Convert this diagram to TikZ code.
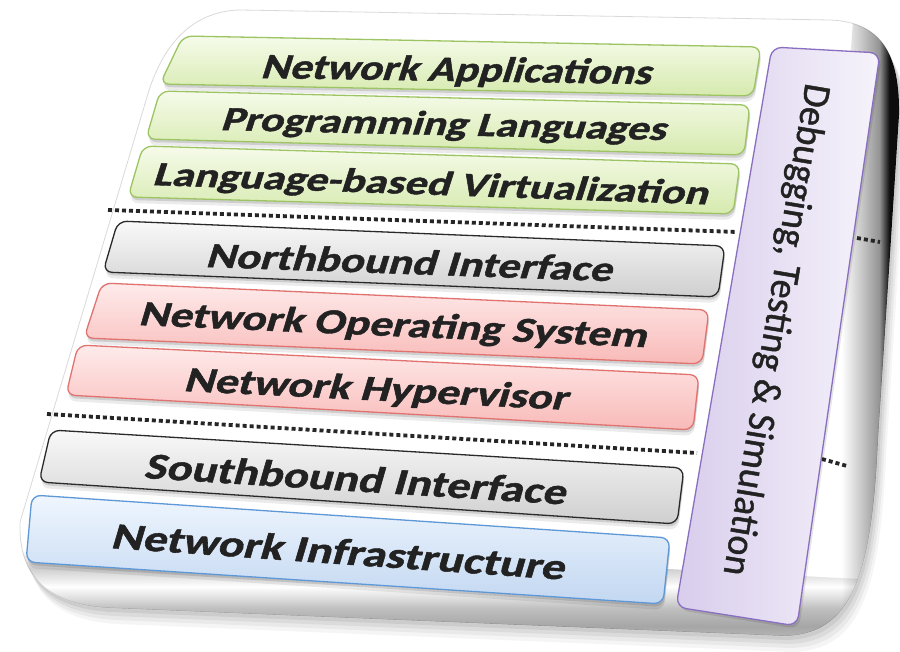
\documentclass[tikz,border=0pt]{standalone}
\usepackage{fontspec}
\setmainfont{Carlito}
\newfontfamily\heavyfont{Carlito}[BoldFeatures={FakeBold=1.2}, UprightFeatures={FakeBold=1.1}]
\usepackage{graphicx}

\definecolor{labeltext}{HTML}{222222}
\definecolor{grnline}{HTML}{9DC462}
\definecolor{grntop}{HTML}{F6FBEA}
\definecolor{grnbot}{HTML}{D6EAAE}
\definecolor{redline}{HTML}{E0736F}
\definecolor{redtop}{HTML}{FEEBEB}
\definecolor{redbot}{HTML}{F8BAB8}
\definecolor{greyline}{HTML}{2A2A2A}
\definecolor{greytop}{HTML}{F9F9F9}
\definecolor{greybot}{HTML}{CFCFCF}
\definecolor{blueline}{HTML}{5E98D6}
\definecolor{bluetop}{HTML}{EFF6FE}
\definecolor{bluebot}{HTML}{C2D7F1}
\definecolor{purpline}{HTML}{8A6FC0}
\definecolor{purpleft}{HTML}{D8CDEC}
\definecolor{purpright}{HTML}{F6F3FB}

% silver curl along the lower rim of the panel
\pgfdeclareverticalshading{curlshade}{100bp}{color(0bp)=(white); color(30bp)=(white);
  color(36bp)=(gray!45); color(43bp)=(gray!70); color(49bp)=(gray!50);
  color(56bp)=(white); color(62bp)=(gray!38); color(68bp)=(white); color(100bp)=(white)}
% dark rim along the right side of the panel
\pgfdeclarehorizontalshading{rimshade}{100bp}{color(0bp)=(white); color(42bp)=(white);
  color(51bp)=(gray!50); color(57bp)=(gray!85); color(61bp)=(black!95); color(100bp)=(black!95)}

% text stretched to a given width and cap height
\newcommand\fitto[3]{\resizebox{#1pt}{#2pt}{\raisebox{0pt}[\fontcharht\font`H][0pt]{#3}}}

\tikzset{
  panel/.style={insert path={(240,10) -- (830,20) .. controls (882,22) and (900,55) .. (899,115)
    -- (878,440) .. controls (872,580) and (850,634) .. (785,636) -- (110,608)
    .. controls (50,605) and (18,578) .. (20,522) -- (147,97)
    .. controls (162,45) and (192,11) .. (240,10) -- cycle}},
  layer/.style={line width=1.3pt, rounded corners=9pt},
  greenlayer/.style={layer, draw=grnline, top color=grntop, bottom color=grnbot},
  redlayer/.style={layer, draw=redline, top color=redtop, bottom color=redbot},
  greylayer/.style={layer, draw=greyline, top color=greytop, bottom color=greybot},
  bluelayer/.style={layer, draw=blueline, top color=bluetop, bottom color=bluebot},
  layershadow/.style={fill=black, rounded corners=9pt},
  lbl/.style={anchor=base west, inner sep=0pt, text=labeltext,
    font=\heavyfont\bfseries\fontsize{30}{36}\selectfont},
  divider/.style={line width=3.8pt, dash pattern=on 4pt off 3pt, draw=black!85},
  sidebar/.style={line width=1.3pt, rounded corners=10pt, draw=purpline,
    left color=purpleft, right color=purpright},
}

% one layer of the stack: a soft shadow, then the outlined, shaded band
\newcommand\layerbox[5]{%
  \fill[layershadow, opacity=.08, xshift=1pt, yshift=-6pt] (#2) -- (#3) -- (#4) -- (#5) -- cycle;
  \fill[layershadow, opacity=.12, xshift=1pt, yshift=-3pt] (#2) -- (#3) -- (#4) -- (#5) -- cycle;
  \draw[#1] (#2) -- (#3) -- (#4) -- (#5) -- cycle;}

\begin{document}
\begin{tikzpicture}[x=1pt, y=-1pt]
\useasboundingbox (0,0) rectangle (900,652);

% cast shadow of the panel
\fill[black, opacity=.07, xshift=2pt, yshift=-4pt, panel];
\fill[black, opacity=.06, xshift=4pt, yshift=-8pt, panel];
\fill[black, opacity=.05, xshift=6pt, yshift=-12pt, panel];
\fill[black, opacity=.04, xshift=8pt, yshift=-16pt, panel];

% panel face with its curled lower rim and dark right rim
\fill[white, draw=gray!30, line width=.8pt, panel];
\begin{scope}
  \clip[panel];
  \begin{scope}[rotate around={-3:(400,590)}]
    \shade[shading=curlshade, blend mode=multiply] (-100,555) rectangle (1000,650);
  \end{scope}
  \begin{scope}[rotate around={-4:(870,350)}]
    \shade[shading=rimshade, blend mode=multiply] (830,-150) rectangle (890,800);
  \end{scope}
\end{scope}

% dotted dividers between the planes
\coordinate (d1a) at (108,210);
\coordinate (d1b) at (737,232);
\coordinate (d1c) at (857,238);
\coordinate (d1d) at (880,242);
\coordinate (d2a) at (47,414);
\coordinate (d2b) at (697,453);
\coordinate (d2c) at (822,459);
\coordinate (d2d) at (847,466);
\draw[divider] (d1a) -- (d1b);
\draw[divider] (d1c) -- (d1d);
\draw[divider] (d2a) -- (d2b);
\draw[divider] (d2c) -- (d2d);

% the layers
\layerbox{greenlayer}{183,36}{761,47}{753,96}{160,84}
\layerbox{greenlayer}{160,91}{750,105}{744,155}{146,139}
\layerbox{greenlayer}{143,146}{740,164}{733,214}{128,197}
\layerbox{greylayer}{118,221}{725,246}{718,297}{103,272}
\layerbox{redlayer}{102,283}{709,310}{702,364}{84,338}
\layerbox{redlayer}{78,345}{699,375}{693,430}{66,395}
\layerbox{greylayer}{51,430}{684,468}{677,524}{39,482}
\layerbox{bluelayer}{32,495}{670,538}{663,604}{26,562}

\node[lbl, rotate=-0.9, xslant=0.3]  (apps)  at (260,78)  {\fitto{390}{23}{Network Applications}};
\node[lbl, rotate=-1.3, xslant=0.3]  (lang)  at (220,130) {\fitto{445}{22}{Programming Languages}};
\node[lbl, rotate=-2.0, xslant=0.28] (virt)  at (152,185) {\fitto{555}{22}{Language-based Virtualization}};
\node[lbl, rotate=-2.0, xslant=0.27] (nbi)   at (205,267) {\fitto{406}{23}{Northbound Interface}};
\node[lbl, rotate=-2.5, xslant=0.25] (nos)   at (138,325) {\fitto{508}{23}{Network Operating System}};
\node[lbl, rotate=-2.8, xslant=0.25] (hyp)   at (183,391) {\fitto{384}{23}{Network Hypervisor}};
\node[lbl, rotate=-3.6, xslant=0.22] (sbi)   at (143,478) {\fitto{422}{24}{Southbound Interface}};
\node[lbl, rotate=-4.0, xslant=0.22] (infra) at (110,548) {\fitto{454}{24}{Network Infrastructure}};

% cross-cutting side bar
\fill[black, opacity=.10, xshift=2pt, yshift=-3pt, rounded corners=10pt]
  (772,47) -- (880,53) -- (797,626) -- (676,607) -- cycle;
\draw[sidebar] (772,47) -- (880,53) -- (797,626) -- (676,607) -- cycle;
\node[inner sep=0pt, rotate=-99.5, text=labeltext, font=\heavyfont\fontsize{30}{36}\selectfont]
  (dbg) at (777,330) {\fitto{498}{25}{Debugging, Testing \& Simulation}};
\end{tikzpicture}
\end{document}
